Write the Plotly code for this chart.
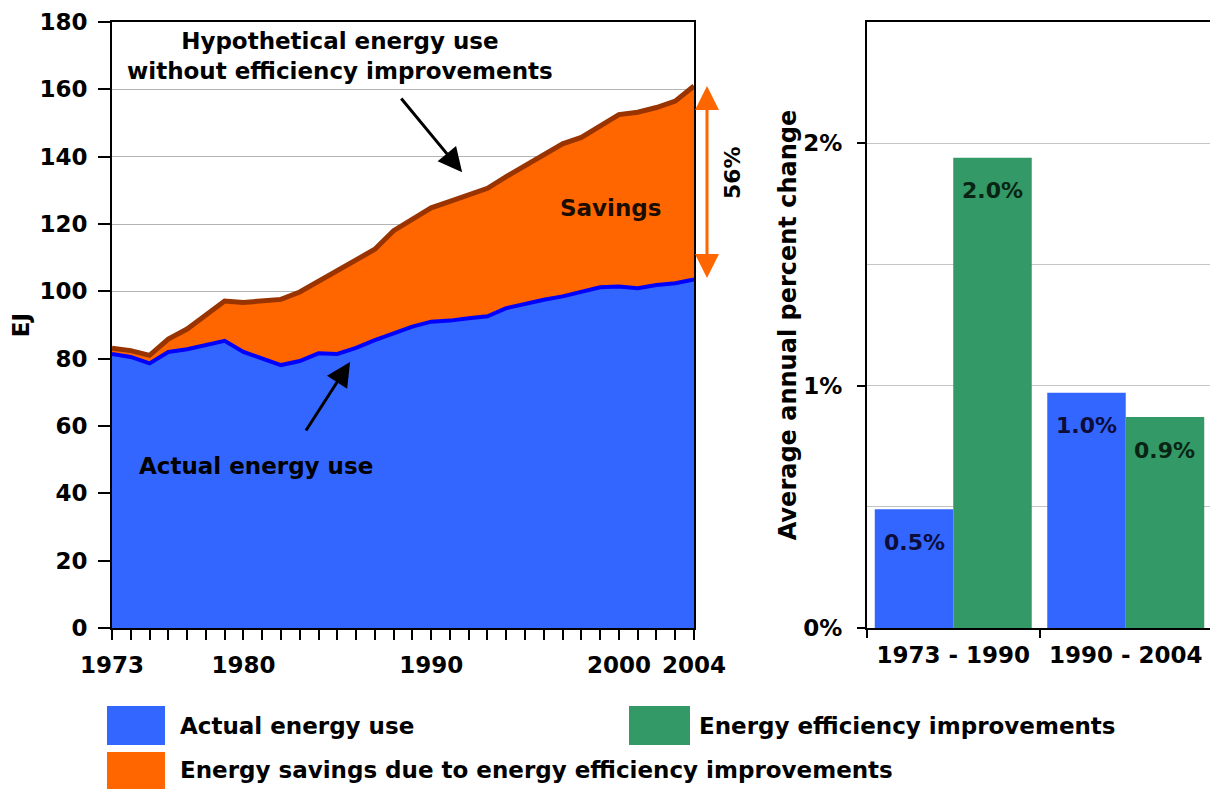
import plotly.graph_objects as go

# ---------------- data ----------------
years = list(range(1973, 2005))
actual_use = [81.4, 80.5, 78.6, 82.0, 82.8, 84.2, 85.3, 82.0, 80.0, 78.1,
              79.3, 81.6, 81.4, 83.2, 85.5, 87.5, 89.5, 91.0, 91.3, 92.0,
              92.6, 95.0, 96.3, 97.5, 98.5, 99.7, 101.2, 101.4, 100.9, 101.9,
              102.4, 103.5]
hypothetical_use = [83.1, 82.4, 81.0, 85.8, 88.8, 93.0, 97.1, 96.7, 97.2, 97.6,
                    99.8, 102.9, 106.1, 109.0, 112.5, 118.0, 121.5, 124.8, 126.7, 128.6,
                    130.6, 134.1, 137.2, 140.4, 143.8, 145.7, 148.9, 152.5, 153.2, 154.6,
                    156.5, 161.0]
year_ticks = [1973, 1980, 1990, 2000, 2004]

periods = ["1973 - 1990", "1990 - 2004"]
actual_change = [0.49, 0.97]
efficiency_change = [1.94, 0.87]
actual_labels = ["0.5%", "1.0%"]
efficiency_labels = ["2.0%", "0.9%"]
pct_ticks = [0, 1, 2]
pct_tick_labels = ["0%", "1%", "2%"]

BLUE = "#3366FF"
BLUE_LINE = "#0000FF"
ORANGE = "#FF6600"
BROWN = "#993300"
GREEN = "#339966"

W, H = 1218, 789
OFF = 8  # page body margin offset
TOP, BOTTOM = 22 - OFF, 628 - OFF


def px2x(px):
    return (px - OFF) / W


def py2y(py):
    return (BOTTOM - (py - OFF)) / (BOTTOM - TOP)


fig = go.Figure()

fig.add_trace(go.Scatter(
    x=years, y=actual_use, mode="lines", name="Actual energy use",
    line=dict(color=BLUE_LINE, width=4), fill="tozeroy", fillcolor=BLUE,
    xaxis="x", yaxis="y", showlegend=False))
fig.add_trace(go.Scatter(
    x=years, y=hypothetical_use, mode="lines",
    name="Energy savings due to energy efficiency improvements",
    line=dict(color=BROWN, width=5), fill="tonexty", fillcolor=ORANGE,
    xaxis="x", yaxis="y", showlegend=False))

fig.add_trace(go.Bar(
    x=periods, y=actual_change, name="Actual energy use",
    marker=dict(color=BLUE, line=dict(width=0)),
    xaxis="x2", yaxis="y2", showlegend=False))
fig.add_trace(go.Bar(
    x=periods, y=efficiency_change, name="Energy efficiency improvements",
    marker=dict(color=GREEN, line=dict(width=0)),
    xaxis="x2", yaxis="y2", showlegend=False))

axis_font = dict(family="DejaVu Sans", size=23, color="black", weight="bold")

fig.update_layout(
    width=W, height=H,
    margin=dict(l=0, r=0, t=TOP, b=H - BOTTOM, autoexpand=False),
    paper_bgcolor="white", plot_bgcolor="white",
    font=dict(family="DejaVu Sans", size=23, color="black", weight="bold"),
    barmode="group", bargap=0.09, bargroupgap=0,
    xaxis=dict(
        domain=[px2x(112), px2x(694)], anchor="y", automargin=False,
        range=[1973, 2004], tickvals=year_ticks,
        ticks="outside", ticklen=10, tickwidth=2, tickcolor="black",
        minor=dict(tick0=1973, dtick=1, ticks="outside", ticklen=10,
                   tickwidth=2, tickcolor="black", showgrid=False),
        showline=True, linecolor="black", linewidth=2, mirror=True,
        showgrid=False, zeroline=False, tickfont=axis_font, tickangle=0,
        ticklabelstandoff=5,
    ),
    yaxis=dict(
        domain=[0, 1], anchor="x", automargin=False,
        range=[0, 180], dtick=20,
        ticks="outside", ticklen=12, tickwidth=2, tickcolor="black",
        showline=True, linecolor="black", linewidth=2, mirror=True,
        showgrid=True, gridcolor="#b4b4b4", gridwidth=1, zeroline=False,
        tickfont=axis_font, ticklabelstandoff=6,
        title=dict(text="EJ", font=axis_font, standoff=6),
    ),
    xaxis2=dict(
        domain=[px2x(867), px2x(1212)], anchor="y2", automargin=False,
        type="category", tickson="boundaries", tickangle=0,
        ticks="outside", ticklen=8, tickwidth=2, tickcolor="black",
        showline=True, linecolor="black", linewidth=2, mirror=True,
        showgrid=False, tickfont=axis_font, ticklabelstandoff=5,
    ),
    yaxis2=dict(
        domain=[0, 1], anchor="x2", automargin=False,
        range=[0, 2.5], tickvals=pct_ticks, ticktext=pct_tick_labels,
        ticks="outside", ticklen=8, tickwidth=2, tickcolor="black",
        minor=dict(dtick=0.5, tick0=0, showgrid=True, gridcolor="#c4c4c4",
                   gridwidth=1, ticks=""),
        showline=True, linecolor="black", linewidth=2, mirror=True,
        showgrid=True, gridcolor="#c4c4c4", gridwidth=1, zeroline=False,
        tickfont=axis_font, ticklabelstandoff=10,
        title=dict(text="Average annual percent change",
                   font=dict(family="DejaVu Sans", size=24, color="black",
                             weight="bold"), standoff=0),
    ),
)

ann = []


def text_ann(px, py, txt, font, **kw):
    d = dict(xref="paper", yref="paper", x=px2x(px), y=py2y(py), text=txt,
             showarrow=False, font=font, xanchor="center", yanchor="middle")
    d.update(kw)
    return d


# left chart labels
ann.append(text_ann(340, 56, "Hypothetical energy use<br>without efficiency improvements",
                    axis_font, align="center"))
ann.append(text_ann(611, 208, "Savings",
                    dict(family="DejaVu Sans", size=23, color="#1a0d00", weight="bold")))
ann.append(text_ann(256, 466, "Actual energy use", axis_font))
ann.append(text_ann(733, 173, "56%",
                    dict(family="DejaVu Sans", size=22, color="black", weight="bold"),
                    textangle=-90))
# black arrows
ann.append(dict(xref="x", yref="y", x=1991.65, y=135.4, axref="x", ayref="y",
                ax=1988.34, ay=157.7, text="", showarrow=True, arrowhead=2,
                arrowsize=1.6, arrowwidth=3, arrowcolor="black", standoff=0))
ann.append(dict(xref="x", yref="y", x=1985.68, y=79.0, axref="x", ayref="y",
                ax=1983.28, ay=58.2, text="", showarrow=True, arrowhead=2,
                arrowsize=1.6, arrowwidth=3, arrowcolor="black", standoff=0))
# orange double arrow for the 56% gap
ann.append(dict(xref="paper", yref="y", x=px2x(707), y=hypothetical_use[-1],
                axref="pixel", ayref="y", ax=0, ay=actual_use[-1],
                text="", showarrow=True, arrowhead=2, arrowside="end+start",
                arrowsize=1.6, arrowwidth=3, arrowcolor=ORANGE,
                standoff=0, startstandoff=0, startarrowhead=2, startarrowsize=1.6))
# bar labels
for p, v, t in zip(periods, actual_change, actual_labels):
    ann.append(dict(xref="x2", yref="y2", x=p, y=v, text=t, showarrow=False,
                    xshift=-39, yshift=-33,
                    font=dict(family="DejaVu Sans", size=22, color="#0d0d3a", weight="bold")))
for p, v, t in zip(periods, efficiency_change, efficiency_labels):
    ann.append(dict(xref="x2", yref="y2", x=p, y=v, text=t, showarrow=False,
                    xshift=39, yshift=-33,
                    font=dict(family="DejaVu Sans", size=22, color="#0a2414", weight="bold")))

# legend (manual)
legend_items = [
    (107, 165, 706, 745, BLUE, 178, 726, "Actual energy use"),
    (629, 690, 706, 745, GREEN, 697, 726, "Energy efficiency improvements"),
    (107, 165, 752, 789, ORANGE, 178, 770, "Energy savings due to energy efficiency improvements"),
]
shapes = []
for x0, x1, y0, y1, col, tx, ty, txt in legend_items:
    shapes.append(dict(type="rect", xref="paper", yref="paper",
                       x0=px2x(x0), x1=px2x(x1), y0=py2y(y1), y1=py2y(y0),
                       fillcolor=col, line=dict(width=0)))
    ann.append(dict(xref="paper", yref="paper", x=px2x(tx), y=py2y(ty),
                    xanchor="left", yanchor="middle", text=txt, showarrow=False,
                    font=axis_font))

fig.update_layout(annotations=ann, shapes=shapes)

fig.write_html("out.html")
